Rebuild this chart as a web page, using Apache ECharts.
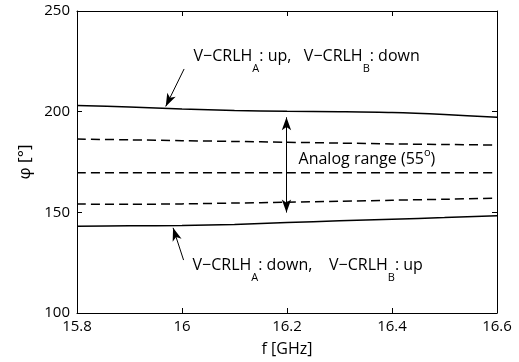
<!DOCTYPE html>
<html>
<head>
<meta charset="utf-8">
<script src="https://cdn.jsdelivr.net/npm/echarts@6/dist/echarts.min.js"></script>
<style>html,body{margin:0;padding:0;background:#fff}#c{width:519px;height:362px}</style>
</head>
<body>
<div id="c"></div>
<script>
// ---- data ----
const freq = [15.8, 15.9, 16.0, 16.1, 16.2, 16.3, 16.4, 16.5, 16.6];
const upperSolid = [203.1, 202.3, 201.3, 200.6, 200.2, 200.0, 199.6, 198.6, 197.2];
const dashed1 = [186.4, 186.0, 185.6, 185.2, 184.8, 184.4, 184.0, 183.7, 183.4];
const dashed2 = [169.6, 169.6, 169.6, 169.6, 169.6, 169.6, 169.7, 169.7, 169.7];
const dashed3 = [154.1, 154.0, 154.2, 154.6, 155.0, 155.5, 156.0, 156.5, 157.0];
const lowerSolid = [143.1, 143.3, 143.4, 144.0, 144.9, 145.8, 146.6, 147.4, 148.3];
const xTicks = [15.8, 16.0, 16.2, 16.4, 16.6];
const yTicks = [100, 150, 200, 250];
// annotations: [tailX, tailY, tipX, tipY]
const arrowUpper = [16.004, 221.2, 15.969, 202.6];
const arrowLower = [16.003, 126.3, 15.983, 142.3];
const rangeArrow = [16.199, 197.2, 16.199, 149.9];
const textUpperPos = [16.022, 226.6];
const textLowerPos = [16.02, 122.6];
const textRangePos = [16.222, 177.2];

const FONT = 'Open Sans';
const pair = (xs, ys) => xs.map((x, i) => [x, ys[i]]);

const rich = {
  m: {fontSize: 16, fontFamily: FONT, color: '#000', lineHeight: 20, verticalAlign: 'top'},
  s: {fontSize: 11, fontFamily: FONT, color: '#000', lineHeight: 12, padding: [15, 0, 0, 0], verticalAlign: 'top'},
  q: {fontSize: 16, fontFamily: FONT, color: '#000', lineHeight: 20, verticalAlign: 'bottom'},
  p: {fontSize: 11, fontFamily: FONT, color: '#000', lineHeight: 12, padding: [0, 0, 11, 0], verticalAlign: 'top'}
};

const lineSeries = (data, dashed) => ({
  type: 'line', data: data, showSymbol: false, symbol: 'none', silent: true,
  lineStyle: {color: '#000', width: 1.5, type: dashed ? [9, 5] : 'solid'},
  smooth: 0.3
});

const arrowLine = (a, both) => [{coord: [a[0], a[1]], symbol: both ? 'arrow' : 'none'}, {coord: [a[2], a[3]], symbol: 'arrow'}];

const chart = echarts.init(document.getElementById('c'));
chart.setOption({
  animation: false,
  backgroundColor: '#fff',
  grid: {left: 77, right: 22, top: 11, bottom: 47},
  xAxis: [{
    type: 'value', min: xTicks[0], max: xTicks[xTicks.length - 1], interval: 0.2,
    name: 'f [GHz]', nameLocation: 'middle', nameGap: 28,
    nameTextStyle: {fontSize: 16, fontFamily: FONT, color: '#000'},
    axisLine: {lineStyle: {color: '#000', width: 1}},
    axisTick: {inside: true, length: 5, lineStyle: {color: '#000'}},
    axisLabel: {fontSize: 15, fontFamily: FONT, color: '#000', margin: 6,
      formatter: v => String(Math.round(v * 10) / 10)},
    splitLine: {show: false}
  }, {
    type: 'value', position: 'top', min: xTicks[0], max: xTicks[xTicks.length - 1], interval: 0.2,
    axisLine: {lineStyle: {color: '#000', width: 1}},
    axisTick: {inside: true, length: 5, lineStyle: {color: '#000'}},
    axisLabel: {show: false}, splitLine: {show: false}
  }],
  yAxis: [{
    type: 'value', min: yTicks[0], max: yTicks[yTicks.length - 1], interval: 50,
    name: 'φ [°]', nameLocation: 'middle', nameGap: 42, nameRotate: 90,
    nameTextStyle: {fontSize: 17, fontFamily: FONT, color: '#000'},
    axisLine: {show: true, lineStyle: {color: '#000', width: 1}},
    axisTick: {show: true, inside: true, length: 5, lineStyle: {color: '#000'}},
    axisLabel: {fontSize: 15, fontFamily: FONT, color: '#000', margin: 7},
    splitLine: {show: false}
  }, {
    type: 'value', position: 'right', min: yTicks[0], max: yTicks[yTicks.length - 1], interval: 50,
    axisLine: {show: true, lineStyle: {color: '#000', width: 1}},
    axisTick: {show: true, inside: true, length: 5, lineStyle: {color: '#000'}},
    axisLabel: {show: false}, splitLine: {show: false}
  }],
  series: [
    lineSeries(pair(freq, upperSolid), false),
    lineSeries(pair(freq, dashed1), true),
    lineSeries(pair(freq, dashed2), true),
    lineSeries(pair(freq, dashed3), true),
    lineSeries(pair(freq, lowerSolid), false),
    {
      type: 'line', data: [], silent: true,
      markLine: {
        silent: true, animation: false,
        symbolSize: [7, 13],
        label: {show: false},
        lineStyle: {color: '#000', width: 1, type: 'solid'},
        emphasis: {disabled: true},
        data: [arrowLine(arrowUpper, false), arrowLine(arrowLower, false), arrowLine(rangeArrow, true)]
      },
      markPoint: {
        silent: true, symbol: 'circle', symbolSize: 0,
        label: {show: true, position: 'right', distance: 0, rich: rich},
        data: [
          {coord: textUpperPos, label: {formatter: '{m|V\u2212CRLH}{s|A}{m|: up,   V\u2212CRLH}{s|B}{m|: down}'}},
          {coord: textLowerPos, label: {formatter: '{m|V\u2212CRLH}{s|A}{m|: down,    V\u2212CRLH}{s|B}{m|: up}'}},
          {coord: textRangePos, label: {formatter: '{q|Analog range (55}{p|o}{q|)}'}}
        ]
      }
    }
  ]
});
</script>
</body>
</html>
